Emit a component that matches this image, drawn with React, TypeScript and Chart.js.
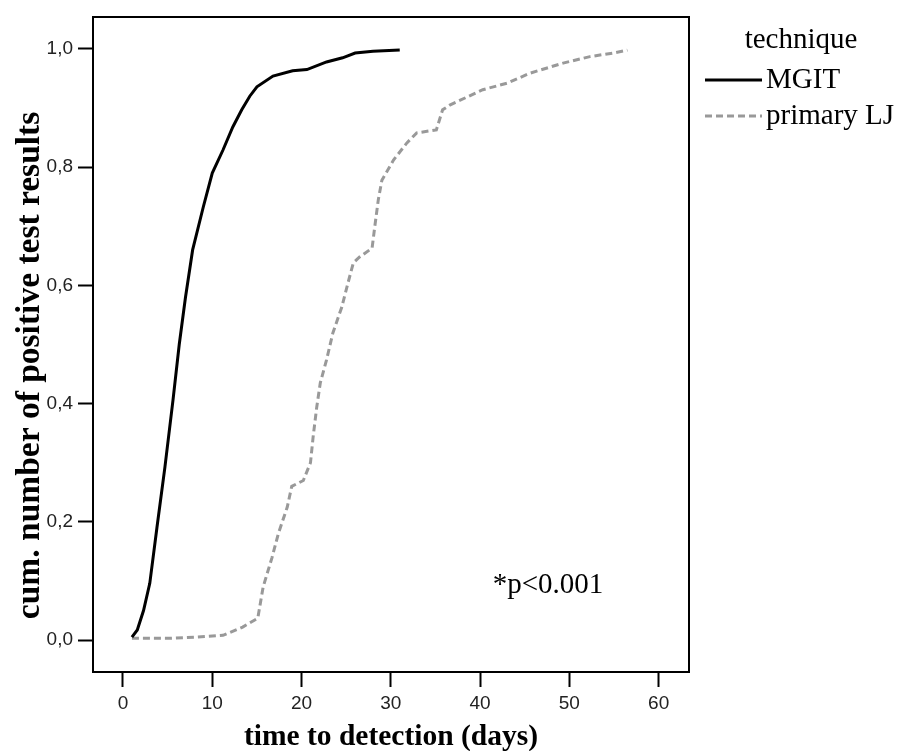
import React, { useEffect, useRef } from "react";
import { Chart, registerables } from "chart.js";

Chart.register(...registerables);

const mgitDays = [1.0, 1.6, 2.3, 3.0, 3.8, 4.7, 5.6, 6.3, 7.0, 7.8, 9.0, 10.0, 11.2, 12.3, 13.3, 14.2, 15.0, 16.8, 19.0, 20.6, 22.8, 24.6, 26.0, 28.0, 31.0];
const mgitCum = [0.005, 0.017, 0.05, 0.096, 0.19, 0.293, 0.406, 0.5, 0.58, 0.66, 0.733, 0.79, 0.829, 0.868, 0.897, 0.92, 0.936, 0.954, 0.963, 0.965, 0.978, 0.985, 0.993, 0.996, 0.998];

const ljDays = [1.0, 5.3, 8.3, 11.2, 13.4, 15.1, 15.7, 16.7, 17.4, 18.4, 18.9, 20.2, 21.0, 21.3, 21.7, 22.1, 22.8, 23.5, 24.5, 25.2, 25.8, 26.5, 27.9, 28.2, 28.6, 29.0, 30.3, 31.8, 32.9, 35.1, 35.8, 36.6, 40.3, 43.0, 45.6, 49.3, 52.3, 54.9, 56.5];
const ljCum = [0.003, 0.003, 0.005, 0.008, 0.022, 0.037, 0.09, 0.14, 0.18, 0.225, 0.26, 0.27, 0.3, 0.344, 0.394, 0.435, 0.474, 0.519, 0.563, 0.604, 0.638, 0.648, 0.663, 0.699, 0.745, 0.778, 0.812, 0.841, 0.858, 0.863, 0.897, 0.905, 0.931, 0.942, 0.959, 0.976, 0.987, 0.993, 0.998];

const xTicks = [0, 10, 20, 30, 40, 50, 60];
const yTicks = [0, 0.2, 0.4, 0.6, 0.8, 1.0];

const seriesNames = ["MGIT", "primary LJ"];
const legendTitle = "technique";
const annotation = "*p<0.001";
const xTitle = "time to detection (days)";
const yTitle = "cum. number of positive test results";

const SERIF = "'Liberation Serif', 'Times New Roman', serif";
const SANS = "'Liberation Sans', Arial, sans-serif";

const framePlugin = {
  id: "frameAndLegend",
  afterDraw(chart: any) {
    const { ctx, chartArea } = chart;
    const { left, right, top, bottom } = chartArea;
    ctx.save();
    ctx.strokeStyle = "#000";
    ctx.lineWidth = 2;
    ctx.beginPath();
    ctx.moveTo(left, top);
    ctx.lineTo(right, top);
    ctx.lineTo(right, bottom);
    ctx.stroke();

    // annotation
    ctx.fillStyle = "#000";
    ctx.font = `29px ${SERIF}`;
    ctx.textAlign = "center";
    ctx.textBaseline = "middle";
    ctx.fillText(annotation, 548, 585);

    // legend
    ctx.textAlign = "center";
    ctx.fillText(legendTitle, 801, 40);
    ctx.textAlign = "left";
    const ds = chart.data.datasets;
    const rows = [80, 116];
    ds.forEach((d: any, i: number) => {
      ctx.beginPath();
      ctx.strokeStyle = d.borderColor;
      ctx.lineWidth = 3;
      ctx.setLineDash(d.borderDash || []);
      ctx.moveTo(705, rows[i]);
      ctx.lineTo(762, rows[i]);
      ctx.stroke();
      ctx.setLineDash([]);
      ctx.fillStyle = "#000";
      ctx.fillText(d.label, 766, rows[i]);
    });
    ctx.restore();
  },
};

export default function App() {
  const ref = useRef<HTMLCanvasElement>(null);
  useEffect(() => {
    if (!ref.current) return;
    const chart = new Chart(ref.current, {
      type: "line",
      data: {
        datasets: [
          {
            label: seriesNames[0],
            data: mgitDays.map((d, i) => ({ x: d, y: mgitCum[i] })),
            borderColor: "#000000",
            borderWidth: 3,
            pointRadius: 0,
            tension: 0,
            fill: false,
          },
          {
            label: seriesNames[1],
            data: ljDays.map((d, i) => ({ x: d, y: ljCum[i] })),
            borderColor: "#999999",
            borderWidth: 3,
            borderDash: [7, 4],
            pointRadius: 0,
            tension: 0,
            fill: false,
          },
        ],
      },
      options: {
        responsive: false,
        animation: false,
        layout: { padding: { top: 17, right: 212, left: 0, bottom: 0 } },
        plugins: { legend: { display: false }, tooltip: { enabled: false } },
        scales: {
          x: {
            type: "linear",
            min: -3.36,
            max: 63.4,
            afterBuildTicks: (s: any) => {
              s.ticks = xTicks.map((v) => ({ value: v }));
            },
            afterFit: (s: any) => {
              s.height = 79;
            },
            grid: { drawOnChartArea: false, drawTicks: true, tickLength: 15, tickWidth: 2, tickColor: "#000" },
            border: { display: true, color: "#000", width: 2 },
            ticks: {
              padding: 5,
              color: "#222",
              font: { family: SANS, size: 19 },
              maxRotation: 0,
              callback: (v: any) => String(v),
            },
            title: {
              display: true,
              text: xTitle,
              color: "#000",
              font: { family: SERIF, size: 29.5, weight: "bold", lineHeight: 0.9 },
              padding: { top: 0, bottom: 0 },
            },
          },
          y: {
            type: "linear",
            min: -0.054,
            max: 1.054,
            afterBuildTicks: (s: any) => {
              s.ticks = yTicks.map((v) => ({ value: v }));
            },
            afterFit: (s: any) => {
              s.width = 93;
            },
            grid: { drawOnChartArea: false, drawTicks: true, tickLength: 15, tickWidth: 2, tickColor: "#000" },
            border: { display: true, color: "#000", width: 2 },
            ticks: {
              padding: 5,
              color: "#222",
              font: { family: SANS, size: 19 },
              callback: (v: any) => Number(v).toFixed(1).replace(".", ","),
            },
            title: {
              display: true,
              text: yTitle + "     ",
              color: "#000",
              font: { family: SERIF, size: 33.5, weight: "bold", lineHeight: 1.2 },
              padding: { top: 10, bottom: 0 },
            },
          },
        },
      },
      plugins: [framePlugin],
    });
    return () => chart.destroy();
  }, []);
  return (
    <div style={{ position: "absolute", left: 0, top: 0, width: 901, height: 751, background: "#fff" }}>
      <canvas ref={ref} width={901} height={751} style={{ width: 901, height: 751 }} />
    </div>
  );
}
